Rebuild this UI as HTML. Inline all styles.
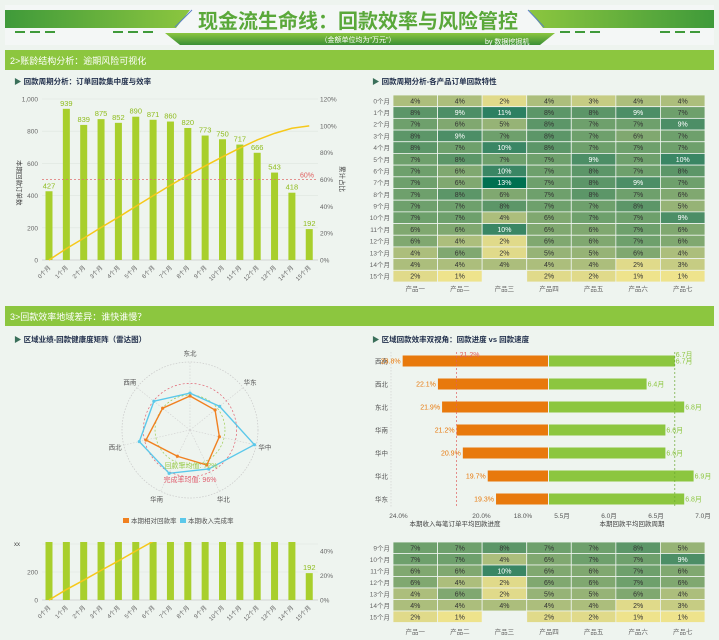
<!DOCTYPE html>
<html><head><meta charset="utf-8">
<style>
html,body{margin:0;padding:0;background:#eef4ef;}
svg{display:block;font-family:"Liberation Sans","Noto Sans CJK SC",sans-serif;}
</style></head>
<body>
<svg id="root" width="719" height="640" viewBox="0 0 719 640">
<defs>
<linearGradient id="gl" x1="0" x2="1"><stop offset="0" stop-color="#3f9a3a"/><stop offset="1" stop-color="#8cc63f"/></linearGradient>
<linearGradient id="gr" x1="0" x2="1"><stop offset="0" stop-color="#8cc63f"/><stop offset="1" stop-color="#3f9a3a"/></linearGradient>
<linearGradient id="gt" x1="0" x2="0" y1="0" y2="1"><stop offset="0" stop-color="#8cc63f"/><stop offset="1" stop-color="#3a8f35"/></linearGradient>
<clipPath id="clipBottom"><rect x="0" y="542" width="360" height="98"/></clipPath>
<clipPath id="clipBottomTicks"><rect x="0" y="548" width="360" height="92"/></clipPath>
</defs>
<g>
<rect x="5" y="5" width="709" height="40" fill="#f4f7f6"/>
<polygon points="5,10 190,10 176,28 5,28" fill="url(#gl)"/>
<polygon points="529,10 714,10 714,28 543,28" fill="url(#gr)"/>
<line x1="175" y1="27" x2="192" y2="10" stroke="#5b7fc8" stroke-width="1"/>
<line x1="528" y1="10" x2="544" y2="27" stroke="#5b7fc8" stroke-width="1"/>
<polygon points="165,33 555,33 540,45 180,45" fill="url(#gt)"/>
<g stroke="#3f9a3a" stroke-width="2"><line x1="15" y1="32" x2="25" y2="32"/><line x1="30" y1="32" x2="40" y2="32"/><line x1="45" y1="32" x2="55" y2="32"/><line x1="113" y1="32" x2="123" y2="32"/><line x1="128" y1="32" x2="138" y2="32"/><line x1="143" y1="32" x2="153" y2="32"/><line x1="560" y1="32" x2="570" y2="32"/><line x1="575" y1="32" x2="585" y2="32"/><line x1="590" y1="32" x2="600" y2="32"/><line x1="660" y1="32" x2="670" y2="32"/><line x1="675" y1="32" x2="685" y2="32"/><line x1="690" y1="32" x2="700" y2="32"/></g>
<text x="358" y="28" text-anchor="middle" font-size="20" font-weight="bold" fill="#5aa83a">现金流生命线：回款效率与风险管控</text>
<text x="358" y="42" text-anchor="middle" font-size="7" fill="#fff">（金额单位均为"万元"）</text>
<text x="485" y="44" font-size="7" fill="#fff">by 数据挖掘机</text>
</g>
<g>
<rect x="5" y="50" width="709" height="20" fill="#8cc63f"/>
<text x="10" y="64" font-size="9" fill="#fff">2&gt;账龄结构分析：逾期风险可视化</text>
</g>
<g>
<rect x="5" y="306" width="709" height="20" fill="#8cc63f"/>
<text x="10" y="320" font-size="9" fill="#fff">3&gt;回款效率地域差异：谁快谁慢？</text>
</g>
<g font-size="7.5" font-weight="bold" fill="#1f2d4a">
<text x="14" y="84"><tspan fill="#3a6f5a">▶</tspan>  回款周期分析：订单回款集中度与效率</text>
<text x="372" y="84"><tspan fill="#3a6f5a">▶</tspan>  回款周期分析-各产品订单回款特性</text>
<text x="14" y="342"><tspan fill="#3a6f5a">▶</tspan>  区域业绩-回款健康度矩阵（雷达图）</text>
<text x="372" y="342"><tspan fill="#3a6f5a">▶</tspan>  区域回款效率双视角：回款进度 vs 回款速度</text>
</g>
</svg>
<script>
const months = ['0个月','1个月','2个月','3个月','4个月','5个月','6个月','7个月','8个月','9个月','10个月','11个月','12个月','13个月','14个月','15个月'];
const orderCounts = [427,939,839,875,852,890,871,860,820,773,750,717,666,543,418,192];
const cumPct = [0,8.5,16.2,24.2,31.9,40,47.9,55.7,63.1,70.1,76.9,83.4,89.5,94.4,98.2,100];
const leftTicks = [0,200,400,600,800,1000];
const rightTicks = [0,20,40,60,80,100,120];
const refPct = 60;
const products = ['产品一','产品二','产品三','产品四','产品五','产品六','产品七'];
const heatValues = [
[4,4,2,4,3,4,4],[8,9,11,8,8,9,7],[7,6,5,8,7,7,9],[8,9,7,8,7,6,7],
[8,7,10,8,7,7,7],[7,8,7,7,9,7,10],[7,6,10,7,8,7,8],[7,6,13,7,8,9,7],
[7,8,6,7,8,7,6],[7,7,8,7,7,8,5],[7,7,4,6,7,7,9],[6,6,10,6,6,7,6],
[6,4,2,6,6,7,6],[4,6,2,5,5,6,4],[4,4,4,4,4,2,3],[2,1,null,2,2,1,1]];
const regions = ['东北','华东','华中','华北','华南','西北','西南'];
const relRate = [70,66,62,80,60,93,72];
const doneRate = [76,78,136,89,99,107,95];
const relAvg = 72, doneAvg = 96;
const bfRegions = ['西南','西北','东北','华南','华中','华北','华东'];
const bfProgress = [23.8,22.1,21.9,21.2,20.9,19.7,19.3];
const bfCycle = [6.7,6.4,6.8,6.6,6.6,6.9,6.8];
const bfProgTicks = [24,20,18];
const bfCycleTicks = [5.5,6.0,6.5,7.0];
const bfProgAvg = 21.2, bfCycleAvg = 6.7;

const NS='http://www.w3.org/2000/svg';
const root=document.getElementById('root');
function mk(tag,attrs,parent){const e=document.createElementNS(NS,tag);for(const k in attrs)e.setAttribute(k,attrs[k]);(parent||root).appendChild(e);return e;}
function tx(s,attrs,parent){const e=mk('text',attrs,parent);e.textContent=s;return e;}

/* ---------- bar + line chart ---------- */
function barChart(g, y0, pxPerUnit, pxPerPct, showAllLabels, tickG){
  const tg=tickG||g;
  const xB=i=>49+i*17.35;
  const yL=v=>y0-v*pxPerUnit;
  const yR=p=>y0-p*pxPerPct;
  leftTicks.forEach(t=>{
    const l=mk('line',{x1:42,x2:318,y1:yL(t),y2:yL(t),stroke:'#dde6df','stroke-width':0.6},g);
    
    
    const tt=tx(t.toLocaleString('en-US'),{x:38,y:yL(t)+2.5,'font-size':6.5,fill:'#666','text-anchor':'end'},tg);
    
    
  });
  rightTicks.forEach(t=>{
    const tt=tx(t+'%',{x:320,y:yR(t)+2.5,'font-size':6.5,fill:'#666'},tg);
    
    
  });
  mk('line',{x1:42,x2:318,y1:y0,y2:y0,stroke:'#ccc','stroke-width':0.8},g);
  orderCounts.forEach((v,i)=>{
    const r=mk('rect',{x:xB(i)-3.5,y:yL(v),width:7,height:v*pxPerUnit,fill:'#a8cf2c'},g);
    
    
    if(showAllLabels||i===orderCounts.length-1){
      const t=tx(String(v),{x:xB(i),y:yL(v)-3,'font-size':7.5,fill:'#8fbc1e','text-anchor':'middle'},g);
      
      
    }
    const lb=tx(months[i],{x:xB(i)+2,y:y0+8,'font-size':6,fill:'#666','text-anchor':'end',transform:`rotate(-45 ${xB(i)+2} ${y0+8})`},g);
    
    
  });
  const pts=cumPct.map((p,i)=>xB(i)+','+yR(p)).join(' ');
  const pl=mk('polyline',{points:pts,fill:'none',stroke:'#f6c81a','stroke-width':1.5},g);
  
  
}
const g1=mk('g',{});


barChart(g1,260,161/1000,161/120,true);
const rl=mk('line',{x1:42,x2:318,y1:260-refPct*161/120,y2:260-refPct*161/120,stroke:'#e07070','stroke-width':0.8,'stroke-dasharray':'2,2'},g1);


const rlt=tx(refPct+'%',{x:300,y:260-refPct*161/120-2,'font-size':7,fill:'#e06060'},g1);


const lt=tx('本期回款订单数',{x:0,y:0,'font-size':6.5,fill:'#444',transform:'translate(17,160) rotate(90)'},g1);


const rt=tx('累计占比',{x:0,y:0,'font-size':6.5,fill:'#444',transform:'translate(340,166) rotate(90)'},g1);



/* bottom clipped duplicate */
const g5=mk('g',{'clip-path':'url(#clipBottom)'});


const g5t=mk('g',{'clip-path':'url(#clipBottomTicks)'});


barChart(g5,600,28/200,24.5/20,false,g5t);
const xx=tx('xx',{x:14,y:546,'font-size':6,fill:'#444'});



/* ---------- heatmap ---------- */
const stops=[[1,[238,227,140]],[2,[224,218,138]],[4,[172,190,124]],[6,[128,168,112]],[7,[110,160,108]],[8,[92,150,104]],[9,[76,142,102]],[10,[58,134,100]],[11,[44,128,98]],[13,[0,112,80]]];
function col(v){
  for(let i=0;i<stops.length-1;i++){const[a,ca]=stops[i],[b,cb]=stops[i+1];
    if(v<=b){const t=Math.max(0,(v-a)/(b-a));return 'rgb('+ca.map((c,k)=>Math.round(c+(cb[k]-c)*t)).join(',')+')';}}
  return 'rgb(0,112,80)';
}
function heatmap(rowStart,rowEnd,top,rh,labelY,name){
  const g=mk('g',{});
  
  
  const x0=393,cw=(705-393)/7;
  for(let r=rowStart;r<=rowEnd;r++){
    const y=top+(r-rowStart)*rh;
    const rlb=tx(months[r],{x:390,y:y+rh/2+2.5,'font-size':6.5,fill:'#666','text-anchor':'end'},g);
    
    
    heatValues[r].forEach((v,c)=>{
      if(v===null)return;
      const cell=mk('rect',{x:x0+c*cw,y:y,width:cw,height:rh,fill:col(v),stroke:'#eef4ef','stroke-width':0.8},g);
      
      
      const t=tx(v+'%',{x:x0+c*cw+cw/2,y:y+rh/2+2.5,'font-size':7,fill:v>=9?'#fff':'#333','text-anchor':'middle'},g);
      
      
    });
  }
  products.forEach((p,c)=>{
    const t=tx(p,{x:x0+c*cw+cw/2,y:labelY,'font-size':6.5,fill:'#666','text-anchor':'middle'},g);
    
    
  });
}
heatmap(0,15,95,187/16,291,'cycle-heatmap');
heatmap(9,15,542,11.5,634,'cycle-heatmap-copy');

/* ---------- radar ---------- */
const gR=mk('g',{});


const cx=190,cy=430,R=68,maxV=140;
const ang=i=>(-90+i*360/regions.length)*Math.PI/180;
const pt=(v,i)=>[cx+Math.cos(ang(i))*v/maxV*R,cy+Math.sin(ang(i))*v/maxV*R];
mk('circle',{cx:cx,cy:cy,r:R,fill:'none',stroke:'#c8c8c8','stroke-width':0.7,'stroke-dasharray':'1.5,1.5'},gR);
regions.forEach((n,i)=>{
  const [ex,ey]=pt(maxV,i);
  mk('line',{x1:cx,y1:cy,x2:ex,y2:ey,stroke:'#d0d0d0','stroke-width':0.6,'stroke-dasharray':'1.5,1.5'},gR);
  const [lx,ly]=pt(maxV*1.13,i);
  const t=tx(n,{x:lx,y:ly+2.5,'font-size':6.5,fill:'#555','text-anchor':'middle'},gR);
  
  
});
const ca=mk('circle',{cx:cx,cy:cy,r:doneAvg/maxV*R,fill:'none',stroke:'#e06070','stroke-width':0.7,'stroke-dasharray':'2,2'},gR);


const cb=mk('circle',{cx:cx,cy:cy,r:relAvg/maxV*R,fill:'none',stroke:'#9ccc50','stroke-width':0.7,'stroke-dasharray':'2,2'},gR);


[[doneRate,'#5bc8ea','done-rate-series'],[relRate,'#f08020','rel-rate-series']].forEach(([arr,c,n])=>{
  const p=mk('polygon',{points:arr.map((v,i)=>pt(v,i).join(',')).join(' '),fill:'none',stroke:c,'stroke-width':1.4},gR);
  
  
  arr.forEach((v,i)=>{const [x,y]=pt(v,i);const d=mk('circle',{cx:x,cy:y,r:1.6,fill:c},gR);
    
    });
});
const ra=tx('回款率均值: '+relAvg+'%',{x:cx+1,y:468,'font-size':7,fill:'#9ccc50','text-anchor':'middle'},gR);


const rb=tx('完成率均值: '+doneAvg+'%',{x:cx,y:482,'font-size':7,fill:'#e06070','text-anchor':'middle'},gR);


const lg1=mk('rect',{x:123,y:518,width:6,height:5,fill:'#f08020'},gR);


const lg1t=tx('本期相对回款率',{x:131,y:523,'font-size':6.5,fill:'#555'},gR);


const lg2=mk('rect',{x:180,y:518,width:6,height:5,fill:'#5bc8ea'},gR);


const lg2t=tx('本期收入完成率',{x:188,y:523,'font-size':6.5,fill:'#555'},gR);



/* ---------- butterfly ---------- */
const gB=mk('g',{});


const xL=v=>523-(v-18)*20.75, xR=v=>562+(v-5.5)*94, cX=548;
const rowY=i=>361+i*23;
mk('line',{x1:391,x2:391,y1:352,y2:508,stroke:'#ccc','stroke-width':0.6,'stroke-dasharray':'1.5,1.5'},gB);
bfRegions.forEach((n,i)=>{
  const y=rowY(i);
  const l=tx(n,{x:388,y:y+2.5,'font-size':6.5,fill:'#555','text-anchor':'end'},gB);
  
  
  const a=mk('rect',{x:xL(bfProgress[i]),y:y-5.5,width:cX-xL(bfProgress[i]),height:11,fill:'#e8790c'},gB);
  
  
  const b=mk('rect',{x:cX+1,y:y-5.5,width:xR(bfCycle[i])-cX-1,height:11,fill:'#8cc63f'},gB);
  
  
  const at=tx(bfProgress[i].toFixed(1)+'%',{x:xL(bfProgress[i])-2,y:y+2.5,'font-size':7,fill:'#e8790c','text-anchor':'end'},gB);
  
  
  const bt=tx(bfCycle[i].toFixed(1)+'月',{x:xR(bfCycle[i])+1,y:y+2.5,'font-size':7,fill:'#8cc63f'},gB);
  
  
});
const pa=mk('line',{x1:xL(bfProgAvg),x2:xL(bfProgAvg),y1:352,y2:508,stroke:'#e06060','stroke-width':0.7,'stroke-dasharray':'2,2'},gB);


const pat=tx(bfProgAvg.toFixed(1)+'%',{x:xL(bfProgAvg)+3,y:357,'font-size':7,fill:'#e06060'},gB);


const ca2=mk('line',{x1:xR(bfCycleAvg),x2:xR(bfCycleAvg),y1:352,y2:508,stroke:'#6aa830','stroke-width':0.7,'stroke-dasharray':'2,2'},gB);


const cat=tx(bfCycleAvg.toFixed(1)+'月',{x:xR(bfCycleAvg)+1,y:357,'font-size':7,fill:'#8cc63f'},gB);


bfProgTicks.forEach(t=>{const e=tx(t.toFixed(1)+'%',{x:xL(t),y:518,'font-size':6.5,fill:'#555','text-anchor':'middle'},gB);
  
  });
bfCycleTicks.forEach(t=>{const e=tx(t.toFixed(1)+'月',{x:xR(t),y:518,'font-size':6.5,fill:'#555','text-anchor':'middle'},gB);
  
  });
const t1=tx('本期收入每笔订单平均回款进度',{x:455,y:526,'font-size':6.5,fill:'#444','text-anchor':'middle'},gB);


const t2=tx('本期回款平均回款周期',{x:632,y:526,'font-size':6.5,fill:'#444','text-anchor':'middle'},gB);


</script>
</body></html>
